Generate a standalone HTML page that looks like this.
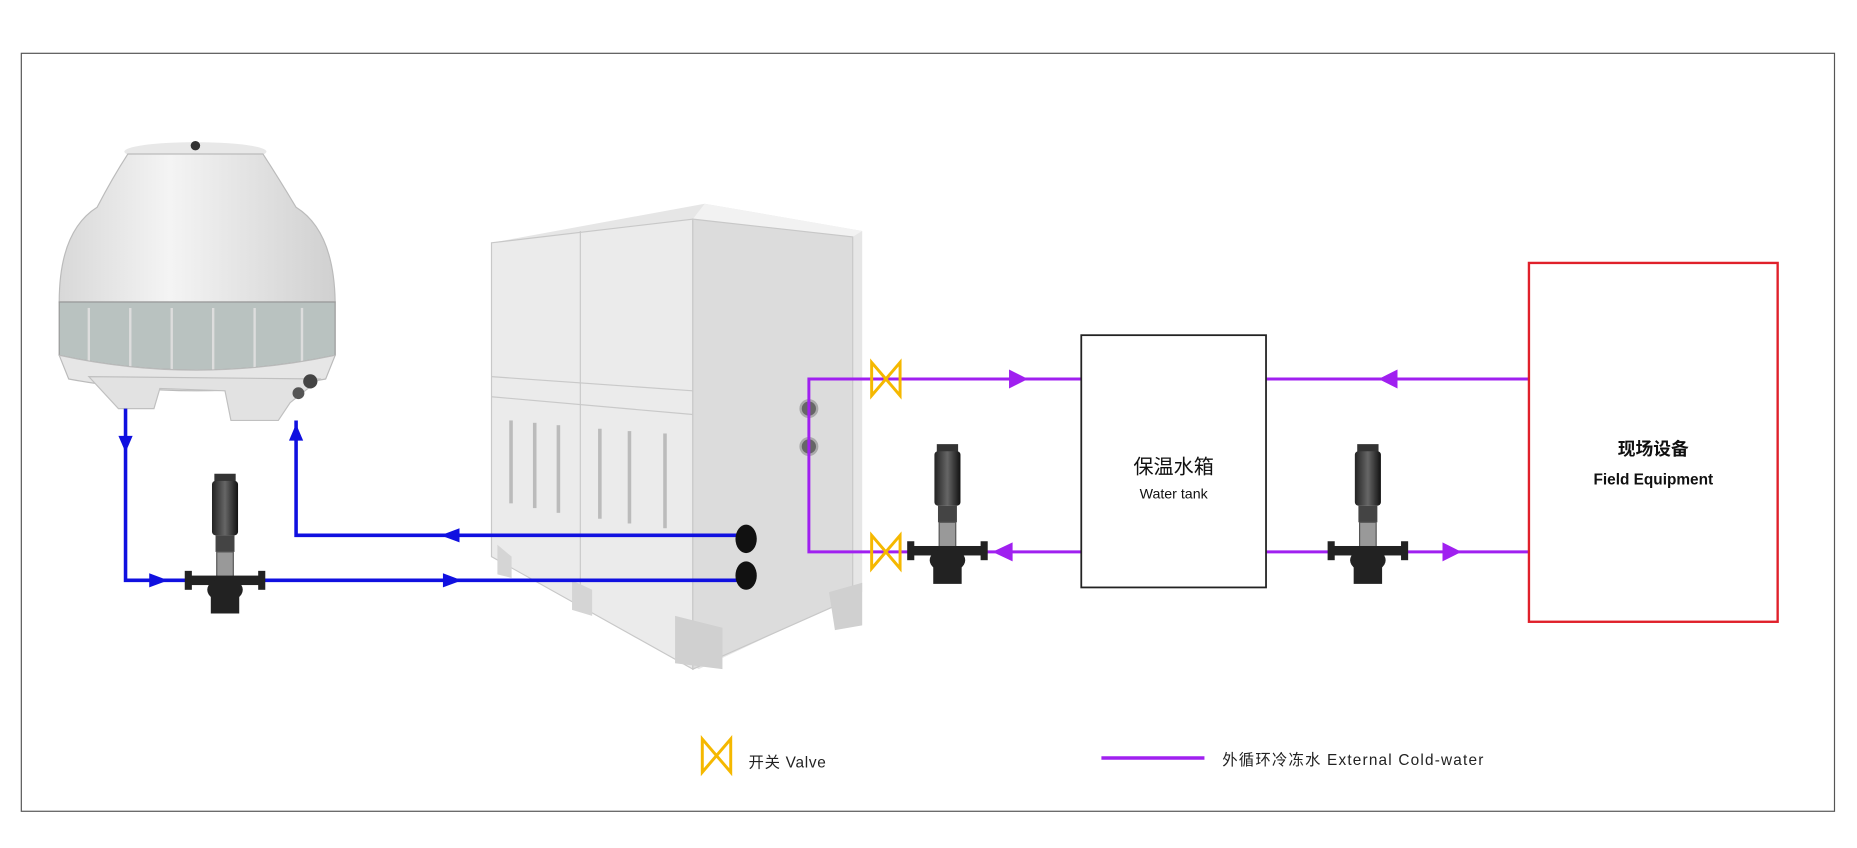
<!DOCTYPE html>
<html><head><meta charset="utf-8"><style>
html,body{margin:0;padding:0;background:#fff;}
svg{display:block}
text{font-family:"Liberation Sans","Noto Sans CJK SC",sans-serif;}
</style></head><body>
<svg width="1857" height="848" viewBox="0 0 1568 716" xmlns="http://www.w3.org/2000/svg">
<defs>
<linearGradient id="tw" x1="0" x2="1"><stop offset="0" stop-color="#d8d8d8"/><stop offset="0.4" stop-color="#f4f4f4"/><stop offset="1" stop-color="#d0d0d0"/></linearGradient>
<linearGradient id="pm" x1="0" x2="1"><stop offset="0" stop-color="#222"/><stop offset="0.5" stop-color="#666"/><stop offset="1" stop-color="#111"/></linearGradient>
<g id="pump">
<rect x="-9" y="0" width="18" height="8" fill="#333"/>
<rect x="-11" y="6" width="22" height="46" rx="3" fill="url(#pm)"/>
<rect x="-8" y="52" width="16" height="14" fill="#444"/>
<rect x="-7" y="66" width="14" height="28" fill="#999" stroke="#555"/>
<rect x="-30" y="86" width="60" height="8" fill="#222"/>
<rect x="-34" y="82" width="6" height="16" fill="#222"/><rect x="28" y="82" width="6" height="16" fill="#222"/>
<ellipse cx="0" cy="98" rx="15" ry="10" fill="#222"/>
<rect x="-12" y="104" width="24" height="14" fill="#222"/>
</g>
<g id="valve"><path d="M-12,-14 L12,14 L12,-14 L-12,14 Z" fill="none" stroke="#f5b800" stroke-width="2.5"/></g>
</defs>
<rect x="18" y="45" width="1531" height="640" fill="none" stroke="#555" stroke-width="1"/>

<!-- cooling tower -->
<ellipse cx="165" cy="128" rx="60" ry="8" fill="#e8e8e8"/>
<circle cx="165" cy="123" r="4" fill="#333"/>
<path d="M108,130 L222,130 Q235,150 250,175 Q282,195 283,255 L50,255 Q50,195 82,175 Q95,150 108,130 Z" fill="url(#tw)" stroke="#bbb"/>
<path d="M50,255 L283,255 L283,300 Q165,325 50,300 Z" fill="#b9c2c0" stroke="#999"/>
<g stroke="#ddd" stroke-width="2"><line x1="75" y1="260" x2="75" y2="305"/><line x1="110" y1="260" x2="110" y2="315"/><line x1="145" y1="260" x2="145" y2="320"/><line x1="180" y1="260" x2="180" y2="320"/><line x1="215" y1="260" x2="215" y2="315"/><line x1="255" y1="260" x2="255" y2="308"/></g>
<path d="M50,300 Q165,325 283,300 L275,320 Q165,340 58,320 Z" fill="#e6e6e6" stroke="#bbb"/>
<path d="M75,318 L100,345 L130,345 L135,328 L190,330 L195,355 L235,355 L245,340 L270,320 Z" fill="#e2e2e2" stroke="#c0c0c0"/>
<circle cx="262" cy="322" r="6" fill="#444"/><circle cx="252" cy="332" r="5" fill="#555"/>

<!-- chiller -->
<path d="M415,205 L595,172 L728,195 L728,500 L590,565 L415,470 Z" fill="#e6e6e6"/>
<path d="M415,205 L585,185 L585,565 L415,470 Z" fill="#ebebeb" stroke="#c8c8c8"/>
<path d="M585,185 L595,172 L728,195 L720,200 Z" fill="#f2f2f2"/>
<path d="M585,185 L720,200 L720,505 L585,565 Z" fill="#dcdcdc" stroke="#c8c8c8"/>
<line x1="490" y1="195" x2="490" y2="500" stroke="#c9c9c9"/>
<line x1="415" y1="318" x2="585" y2="330" stroke="#c9c9c9"/>
<line x1="415" y1="335" x2="585" y2="350" stroke="#c9c9c9"/>
<g fill="#bbb">
<rect x="430" y="355" width="3" height="70"/><rect x="450" y="357" width="3" height="72"/><rect x="470" y="359" width="3" height="74"/>
<rect x="505" y="362" width="3" height="76"/><rect x="530" y="364" width="3" height="78"/><rect x="560" y="366" width="3" height="80"/>
</g>
<path d="M420,460 L432,470 L432,488 L420,485 Z" fill="#d5d5d5"/>
<path d="M483,490 L500,498 L500,520 L483,515 Z" fill="#d5d5d5"/>
<path d="M570,520 L610,530 L610,565 L570,560 Z" fill="#d0d0d0"/>
<path d="M700,500 L728,492 L728,528 L705,532 Z" fill="#d0d0d0"/>
<circle cx="683" cy="345" r="7" fill="#666" stroke="#aaa" stroke-width="2"/>
<circle cx="683" cy="377" r="7" fill="#666" stroke="#aaa" stroke-width="2"/>

<!-- blue lines -->
<g stroke="#1010e0" stroke-width="3" fill="none">
<polyline points="106,345 106,490 630,490"/>
<polyline points="630,452 250,452 250,355"/>
</g>
<g fill="#1010e0">
<path d="M100,368 L112,368 L106,382 Z"/>
<path d="M244,372 L256,372 L250,358 Z"/>
<path d="M126,484 L126,496 L142,490 Z"/>
<path d="M374,484 L374,496 L390,490 Z"/>
<path d="M388,446 L388,458 L372,452 Z"/>
</g>
<ellipse cx="630" cy="455" rx="9" ry="12" fill="#111"/>
<ellipse cx="630" cy="486" rx="9" ry="12" fill="#111"/>

<!-- purple lines -->
<g stroke="#a020f0" stroke-width="2.5" fill="none">
<polyline points="913,320 683,320 683,466 913,466"/>
<line x1="1069" y1="320" x2="1291" y2="320"/>
<line x1="1069" y1="466" x2="1291" y2="466"/>
</g>
<g fill="#a020f0">
<path d="M852,312 L852,328 L868,320 Z"/>
<path d="M1180,312 L1180,328 L1164,320 Z"/>
<path d="M855,458 L855,474 L838,466 Z"/>
<path d="M1218,458 L1218,474 L1234,466 Z"/>
</g>
<use href="#valve" x="748" y="320"/>
<use href="#valve" x="748" y="466"/>

<use href="#pump" x="190" y="400"/>
<use href="#pump" x="800" y="375"/>
<use href="#pump" x="1155" y="375"/>

<rect x="913" y="283" width="156" height="213" fill="#fff" stroke="#222" stroke-width="1.5"/>
<text x="991" y="400" font-size="17" text-anchor="middle" fill="#111">保温水箱</text>
<text x="991" y="421" font-size="12" text-anchor="middle" fill="#111">Water tank</text>

<rect x="1291" y="222" width="210" height="303" fill="#fff" stroke="#e0202a" stroke-width="2"/>
<text x="1396" y="384" font-size="15" font-weight="bold" text-anchor="middle" fill="#111">现场设备</text>
<text x="1396" y="409" font-size="13" font-weight="bold" text-anchor="middle" fill="#111">Field Equipment</text>

<!-- legend -->
<use href="#valve" x="605" y="638"/>
<text x="632" y="648" font-size="13" fill="#222" letter-spacing="0.6">开关 Valve</text>
<line x1="930" y1="640" x2="1017" y2="640" stroke="#a020f0" stroke-width="3"/>
<text x="1032" y="646" font-size="13" fill="#222" letter-spacing="1">外循环冷冻水 External Cold-water</text>
</svg>
</body></html>
